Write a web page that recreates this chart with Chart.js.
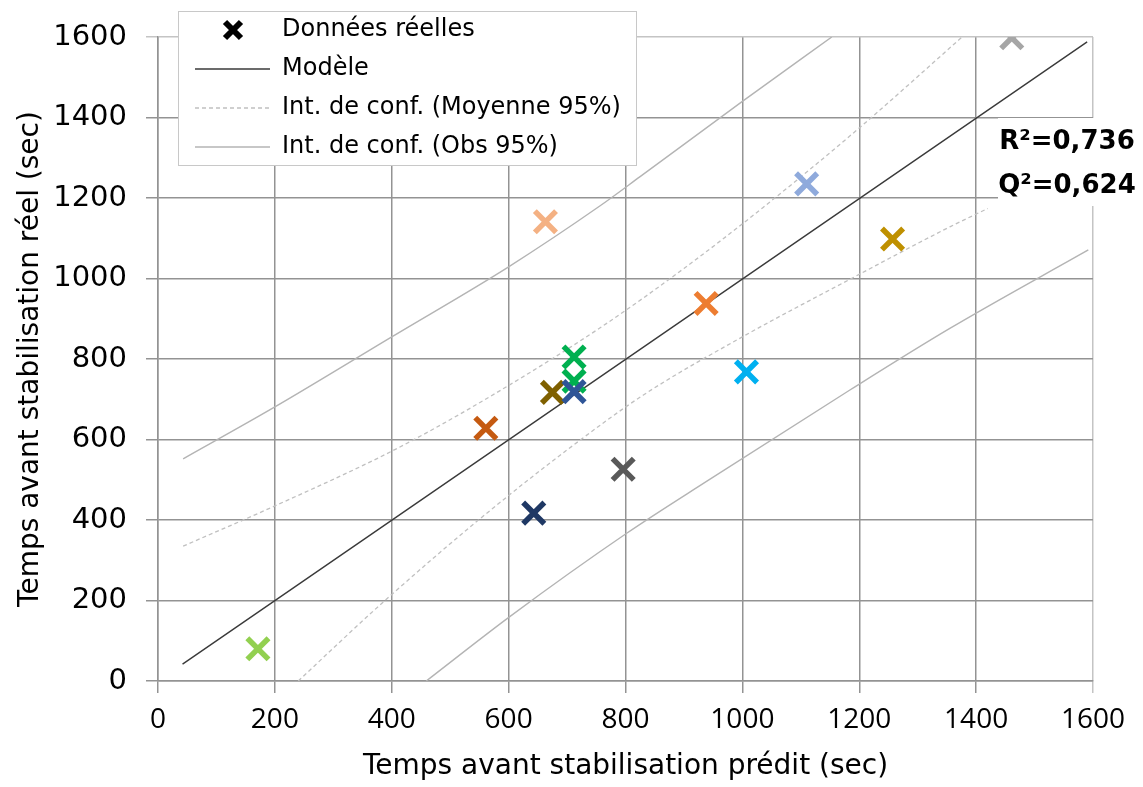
<!DOCTYPE html>
<html>
<head>
<meta charset="utf-8">
<script src="https://cdn.jsdelivr.net/npm/chart.js@4.4.1/dist/chart.umd.min.js"></script>
<style>
  html, body { margin: 0; padding: 0; background: #fff; }
</style>
</head>
<body>
<canvas id="chart" width="1143" height="787"></canvas>
<script>
// Observed vs predicted points (one colour per sample)
const predX = [171, 561, 643, 675, 712, 712, 712, 663, 796, 938, 1007, 1110, 1257, 1461];
const realY = [80, 628, 417, 717, 805, 745, 719, 1141, 526, 938, 768, 1235, 1098, 1598];
const pointColors = ['#92D050', '#C55A11', '#1F3864', '#7F6000', '#00B050', '#00B050', '#2F5597',
                     '#F4B183', '#595959', '#ED7D31', '#00B0F0', '#8FAADC', '#BF9000', '#A6A6A6'];

// Model line
const modelX = [42, 1590];
const modelY = [42, 1588];

// Confidence interval on the mean (dashed)
const meanUpX = [43, 200, 400, 551, 756, 900, 1035, 1200, 1376];
const meanUpY = [335, 435, 571, 692, 877, 1025, 1176, 1374, 1600];
const meanLowX = [240, 380, 551, 700, 830, 1000, 1184, 1356, 1420];
const meanLowY = [0, 189, 403, 574, 710, 855, 998, 1129, 1174];

// Confidence interval on observations (solid grey)
const obsUpX = [43, 200, 400, 600, 756, 825, 1000, 1153];
const obsUpY = [552, 681, 855, 1029, 1180, 1253, 1440, 1600];
const obsLowX = [459, 602, 802, 942, 1184, 1355, 1592];
const obsLowY = [0, 160, 367, 499, 723, 876, 1071];

const axisTicks = [0, 200, 400, 600, 800, 1000, 1200, 1400, 1600];
const statLines = ['R²=0,736', 'Q²=0,624'];

const toPoints = (xs, ys) => xs.map((x, i) => ({ x: x, y: ys[i] }));

Chart.defaults.font.family = '"DejaVu Sans", sans-serif';
Chart.defaults.color = '#000';

// Legend drawn inside the plot area, like the original
const boxLegend = {
  id: 'boxLegend',
  afterDraw(chart) {
    const ctx = chart.ctx;
    ctx.save();
    ctx.fillStyle = '#fff';
    ctx.fillRect(178, 11, 458, 154);
    ctx.strokeStyle = '#c8c8c8';
    ctx.lineWidth = 1;
    ctx.strokeRect(178.5, 11.5, 458, 154);

    const seen = [];
    let row = 0;
    chart.data.datasets.forEach(ds => {
      if (seen.includes(ds.label)) return;
      seen.push(ds.label);
      const y = 30 + row * 39;
      if (ds.showLine) {
        ctx.strokeStyle = ds.borderColor;
        ctx.lineWidth = ds.borderWidth;
        ctx.setLineDash(ds.borderDash || []);
        ctx.beginPath();
        ctx.moveTo(195, y);
        ctx.lineTo(270, y);
        ctx.stroke();
        ctx.setLineDash([]);
      } else {
        ctx.strokeStyle = '#000';
        ctx.lineWidth = 6;
        ctx.beginPath();
        ctx.moveTo(225, y - 8); ctx.lineTo(241, y + 8);
        ctx.moveTo(241, y - 8); ctx.lineTo(225, y + 8);
        ctx.stroke();
      }
      ctx.fillStyle = '#000';
      ctx.font = '24px "DejaVu Sans"';
      ctx.textBaseline = 'middle';
      ctx.textAlign = 'left';
      ctx.fillText(ds.label, 282, y);
      row++;
    });

    // R² / Q² box
    ctx.fillStyle = '#fff';
    ctx.fillRect(998, 118, 140, 88);
    ctx.fillStyle = '#000';
    ctx.font = 'bold 26px "DejaVu Sans"';
    ctx.textAlign = 'center';
    statLines.forEach((t, i) => ctx.fillText(t, 1067, 142 + i * 44));
    ctx.restore();
  }
};

const gridColor = ctx => (ctx.tick && ctx.tick.value === 1600) ? '#c4c4c4' : '#939393';

const lineSet = (label, xs, ys, color, width, dash) => ({
  label: label,
  data: toPoints(xs, ys),
  showLine: true,
  borderColor: color,
  borderWidth: width,
  borderDash: dash,
  cubicInterpolationMode: 'monotone',
  pointRadius: 0,
  pointHoverRadius: 0
});

new Chart(document.getElementById('chart'), {
  type: 'scatter',
  data: {
    datasets: [
      {
        label: 'Données réelles',
        data: toPoints(predX, realY),
        pointStyle: 'crossRot',
        pointRadius: 15,
        pointHoverRadius: 15,
        pointBorderWidth: 5.5,
        pointHoverBorderWidth: 5.5,
        borderColor: pointColors,
        backgroundColor: pointColors,
        showLine: false
      },
      lineSet('Modèle', modelX, modelY, '#3a3a3a', 1.4, []),
      lineSet('Int. de conf. (Moyenne 95%)', meanUpX, meanUpY, '#c0c0c0', 1.3, [4, 3]),
      lineSet('Int. de conf. (Moyenne 95%)', meanLowX, meanLowY, '#c0c0c0', 1.3, [4, 3]),
      lineSet('Int. de conf. (Obs 95%)', obsUpX, obsUpY, '#b4b4b4', 1.4, []),
      lineSet('Int. de conf. (Obs 95%)', obsLowX, obsLowY, '#b4b4b4', 1.4, [])
    ]
  },
  options: {
    responsive: false,
    animation: false,
    layout: { padding: { left: 0, top: 37, right: 50, bottom: 0 } },
    plugins: {
      legend: { display: false },
      tooltip: { enabled: false }
    },
    scales: {
      x: {
        type: 'linear',
        min: 0,
        max: 1600,
        afterBuildTicks: scale => { scale.ticks = axisTicks.map(v => ({ value: v })); },
        afterFit: scale => { scale.height = 106; },
        grid: { color: gridColor, lineWidth: 1.5, tickLength: 12 },
        border: { color: '#939393', width: 1.5 },
        ticks: { padding: 10, font: { size: 28, family: '"Open Sans"' }, callback: v => String(v) },
        title: {
          display: true,
          text: 'Temps avant stabilisation prédit (sec)',
          font: { size: 28 },
          padding: { top: 0, bottom: 3 }
        }
      },
      y: {
        type: 'linear',
        min: 0,
        max: 1600,
        afterBuildTicks: scale => { scale.ticks = axisTicks.map(v => ({ value: v })); },
        afterFit: scale => { scale.width = 158; },
        grid: { color: gridColor, lineWidth: 1.5, tickLength: 12 },
        border: { color: '#939393', width: 1.5 },
        ticks: { padding: 19, font: { size: 29 }, callback: v => String(v) },
        title: {
          display: true,
          text: 'Temps avant stabilisation réel (sec)',
          font: { size: 28 },
          padding: { top: 14, bottom: 0 }
        }
      }
    }
  },
  plugins: [boxLegend]
});
</script>
</body>
</html>
